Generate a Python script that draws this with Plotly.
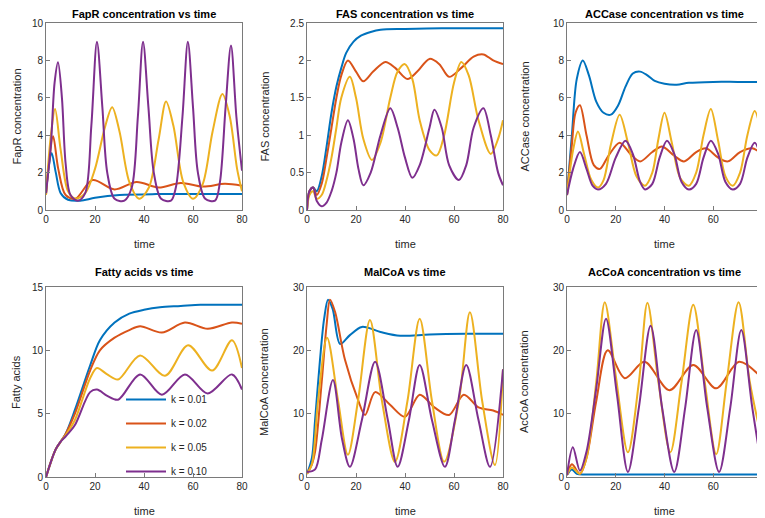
import plotly.graph_objects as go

# The page body adds an 8 px margin, so the figure is drawn 8 px smaller and
# all screen positions are converted to figure positions with this offset.
OFF = 8
W, H = 765 - OFF, 518 - OFF
COLORS = ["#0072BD", "#D95319", "#EDB120", "#7E2F8E"]
SERIES_NAMES = ["k = 0.01", "k = 0.02", "k = 0.05", "k = 0.10"]

# ---------------- Panel 1: FapR ----------------
fapr_t = [
    [0, 1, 2.3, 4, 6, 9, 14, 20, 30, 45, 60, 80],
    [0, 1.2, 2.9, 5, 8, 12, 19, 28, 37, 46, 55, 64, 73, 80],
    [0, 2, 3.7, 6, 9, 12, 16, 20, 24, 27, 30, 34, 38, 42, 46, 49, 52, 56, 60, 64, 68, 72, 75, 78, 80],
    [0, 2, 3.5, 4.9, 6.5, 8, 10, 13, 16, 18.5, 20.8, 23, 25, 28, 32, 35, 37.5, 39.6, 41.8, 44, 47, 51, 53,
     55.7, 57.9, 60, 62, 65, 69, 71, 73.3, 75.5, 77.7, 80],
]
fapr_y = [
    [0.9, 2.2, 3.05, 2.0, 0.9, 0.55, 0.5, 0.65, 0.8, 0.85, 0.85, 0.85],
    [0.8, 2.5, 3.95, 2.2, 0.8, 0.6, 1.6, 1.1, 1.5, 1.2, 1.45, 1.25, 1.4, 1.3],
    [0.8, 4.0, 5.4, 3.2, 1.0, 0.6, 0.9, 2.2, 4.4, 5.5, 4.2, 1.5, 0.6, 1.2, 3.8, 5.8, 4.5, 1.5, 0.6, 1.4,
     4.2, 6.2, 5.0, 2.2, 1.0],
    [0.9, 3.5, 6.8, 7.9, 6.0, 2.5, 0.8, 0.5, 0.9, 4.5, 9.0, 5.5, 2.0, 0.6, 0.5, 1.2, 5.0, 9.0, 5.5, 2.0,
     0.6, 0.5, 1.2, 5.0, 9.0, 5.5, 2.0, 0.6, 0.5, 1.5, 5.5, 8.8, 5.0, 2.1],
]

# ---------------- Panel 2: FAS ----------------
fas_t = [
    [0, 1, 2.5, 4, 6, 8, 10, 12, 14, 16, 19, 22, 26, 30, 40, 55, 80],
    [0, 1, 2.5, 4, 6, 8, 10, 12, 14, 16.7, 20, 23, 27, 32, 36, 41, 45, 50, 54, 58, 63, 68, 72, 76, 80],
    [0, 1, 2.5, 4, 6, 8, 10, 12, 14, 17.5, 20, 23, 26.5, 30, 34, 37, 40, 43, 46, 50, 53, 56, 60, 63, 66,
     70, 75, 78, 80],
    [0, 1, 2.5, 4, 6, 8, 10, 12, 14, 16.7, 19, 21, 23, 26, 30, 34, 37, 40, 43, 46, 50, 52, 55, 58, 62,
     65, 68, 72, 75, 78, 80],
]
fas_y = [
    [0, 0.25, 0.3, 0.25, 0.45, 0.85, 1.3, 1.65, 1.9, 2.1, 2.25, 2.33, 2.38, 2.41, 2.42, 2.43, 2.43],
    [0, 0.25, 0.3, 0.2, 0.35, 0.7, 1.1, 1.5, 1.8, 2.0, 1.85, 1.72, 1.85, 1.98, 1.9, 1.75, 1.85, 2.02,
     1.95, 1.78, 1.9, 2.05, 2.08, 2.0, 1.95],
    [0, 0.2, 0.25, 0.15, 0.2, 0.4, 0.7, 1.1, 1.5, 1.78, 1.5, 0.95, 0.67, 0.9, 1.5, 1.85, 1.95, 1.75,
     1.2, 0.8, 0.73, 1.0, 1.7, 1.98, 1.8, 1.2, 0.75, 0.95, 1.2],
    [0, 0.25, 0.3, 0.12, 0.05, 0.1, 0.25, 0.5, 0.9, 1.2, 0.95, 0.55, 0.33, 0.5, 1.0, 1.36, 1.1, 0.7,
     0.43, 0.6, 1.1, 1.34, 1.1, 0.6, 0.4, 0.6, 1.1, 1.36, 1.0, 0.5, 0.33],
]

# ---------------- Panel 3: ACCase ----------------
acc_t = [
    [0, 2, 4, 6.5, 9, 12, 15, 18, 21, 24, 27, 30, 33, 36, 40, 45, 50, 60, 70, 80],
    [0, 2, 3.5, 5.3, 8, 11, 13.5, 17, 21.6, 26, 30, 35, 39, 44, 48, 53, 57, 62, 66, 71, 76, 80],
    [0, 2.5, 4.5, 7, 10, 12.7, 15, 18, 21.6, 25, 28.5, 32, 35, 37.5, 40, 43, 46.5, 50, 53, 56, 59, 62,
     65, 68, 71, 74, 77, 80],
    [0, 2.5, 5.3, 8, 10.5, 12.7, 16, 20, 24, 27, 30, 32, 35, 38, 41, 44, 47, 50, 53, 56, 59, 62, 65, 68,
     71, 74, 77, 80],
]
acc_y = [
    [0.8, 4.0, 7.0, 8.0, 7.2, 5.8, 5.2, 5.1, 5.6, 6.6, 7.3, 7.4, 7.2, 6.9, 6.75, 6.7, 6.8, 6.85, 6.85, 6.85],
    [0.8, 3.5, 5.2, 5.6, 4.0, 2.4, 2.2, 2.9, 3.6, 3.0, 2.6, 3.1, 3.4, 2.9, 2.6, 3.1, 3.3, 2.8, 2.6, 3.1,
     3.3, 3.0],
    [0.8, 3.2, 4.2, 3.0, 1.6, 1.2, 1.6, 3.5, 5.1, 3.6, 1.8, 1.3, 2.0, 3.8, 5.2, 3.6, 1.7, 1.3, 2.0, 4.0,
     5.4, 3.7, 1.8, 1.3, 2.0, 4.0, 5.3, 3.8],
    [0.8, 2.2, 3.1, 2.2, 1.3, 1.1, 1.4, 2.8, 3.7, 3.0, 1.5, 1.1, 1.4, 2.8, 3.7, 3.0, 1.5, 1.1, 1.4, 2.8,
     3.7, 3.0, 1.5, 1.1, 1.4, 2.8, 3.6, 2.6],
]

# ---------------- Panel 4: Fatty acids ----------------
fa_t = [
    [0, 2, 4, 6, 8, 11.8, 18, 22, 28, 34, 40, 46.5, 55, 63, 70, 80],
    [0, 2, 4, 6, 8, 11.8, 18, 22, 28, 34, 38.4, 47.3, 56.7, 66, 75.9, 80],
    [0, 2, 4, 6, 8, 11.8, 18, 20.8, 25, 29.4, 38.4, 48.6, 58, 67.8, 75.9, 80],
    [0, 2, 4, 6, 8, 11.8, 18, 20.8, 25, 29.4, 38.4, 47.3, 56.7, 66, 75.9, 80],
]
fa_y = [
    [0, 1.2, 2.2, 2.8, 3.4, 5.3, 8.8, 10.8, 12.2, 12.9, 13.2, 13.4, 13.5, 13.6, 13.6, 13.6],
    [0, 1.2, 2.2, 2.8, 3.4, 5.0, 8.4, 10.0, 11.0, 11.6, 11.9, 11.4, 12.2, 11.7, 12.2, 12.1],
    [0, 1.2, 2.2, 2.8, 3.3, 4.5, 7.8, 8.6, 8.1, 7.7, 9.6, 8.0, 10.4, 8.4, 10.8, 8.6],
    [0, 1.2, 2.2, 2.8, 3.2, 4.1, 6.7, 6.9, 6.4, 6.1, 8.1, 6.5, 8.1, 6.6, 8.1, 6.9],
]

# ---------------- Panel 5: MalCoA ----------------
mal_t = [
    [0, 2, 3.3, 5.3, 7, 8.6, 10.5, 13.5, 17.5, 22.4, 30, 38, 50, 65, 80],
    [0, 2, 3.3, 6, 8, 9.4, 11.5, 15.5, 20.8, 23.7, 27.8, 33.9, 40, 46, 52, 58, 64, 70, 76, 80],
    [0, 2, 4.5, 8.2, 12.7, 16.7, 20.8, 25.7, 30.6, 35.9, 41, 46, 51, 56, 62, 66.5, 71.5, 76.7, 80],
    [0, 3.3, 6, 10.6, 14.3, 17.5, 22.4, 27.8, 33, 37, 41.6, 46, 51, 56.3, 60.4, 65, 70, 74.7, 80],
]
mal_y = [
    [0.5, 3, 9, 18.5, 25, 28, 26.5, 21, 22.4, 23.7, 22.9, 22.3, 22.5, 22.6, 22.6],
    [0.5, 2, 4, 15, 24, 28, 26, 18.5, 12.2, 9.8, 13.4, 11.4, 9.5, 13, 11, 9.8, 13, 11, 10.5, 9.8],
    [0.5, 2, 12, 22, 12, 3.5, 12, 24.8, 12, 2.4, 12, 25, 12, 2.4, 12, 26, 12, 1.9, 17],
    [0.8, 1.2, 5.8, 15.3, 6, 1.6, 9, 18.2, 9, 1.6, 9, 17.7, 9, 1.6, 9, 17.7, 9, 1.6, 17],
]

# ---------------- Panel 6: AcCoA ----------------
acoa_t = [
    [0, 2, 4, 8, 20, 40, 60, 80],
    [0, 2, 5.3, 8, 12, 16.7, 23.7, 31.8, 42, 51.8, 61.2, 70.6, 80],
    [0, 2, 5.3, 8, 12, 15.5, 20, 25, 29.5, 33, 37.5, 42.4, 47, 51.8, 56.5, 61.2, 65.5, 70.4, 75, 80],
    [0, 2.4, 5.3, 8, 12, 16, 20.5, 25, 29.5, 34.3, 39, 44, 48.5, 53, 57.5, 62.4, 67, 71.5, 76, 80],
]
acoa_y = [
    [0.3, 1.2, 0.5, 0.4, 0.4, 0.4, 0.4, 0.4],
    [0.3, 2.0, 0.5, 3, 12, 20, 15.6, 18.2, 13.7, 17.7, 14, 18.2, 15.6],
    [0.3, 1.5, 0.5, 3, 15, 27.6, 16, 3.9, 15, 27.5, 15, 3.9, 15, 27.2, 15, 3.6, 15, 27.6, 15, 5.8],
    [0.3, 4.7, 1.0, 4, 14, 25, 13, 0.8, 11, 23.9, 11, 0.8, 11, 23.2, 11, 0.8, 11, 23.2, 11, 1.2],
]

titles = ["FapR concentration vs time", "FAS concentration vs time", "ACCase concentration vs time",
          "Fatty acids vs time", "MalCoA vs time", "AcCoA concentration vs time"]
ylabels = ["FapR concentration", "FAS concentration", "ACCase concentration",
           "Fatty acids", "MalCoA concentration", "AcCoA concentration"]
xlabel = "time"

time_ticks = [0, 20, 40, 60, 80]
y_ticks = [
    [0, 2, 4, 6, 8, 10],
    [0, 0.5, 1, 1.5, 2, 2.5],
    [0, 2, 4, 6, 8, 10],
    [0, 5, 10, 15],
    [0, 10, 20, 30],
    [0, 10, 20, 30],
]

panels = [(fapr_t, fapr_y), (fas_t, fas_y), (acc_t, acc_y),
          (fa_t, fa_y), (mal_t, mal_y), (acoa_t, acoa_y)]

# screen-pixel geometry of each axes box (left, right, top, bottom)
xl = [46, 307, 567]
xr = [242, 503, 762]
yt = [23, 287]
yb = [210, 477]
ylab_x = [16, 264, 524]


def px(sx):
    return (sx - OFF) / W


def py(sy):
    return 1 - (sy - OFF) / H


FONT = "Liberation Sans, Arial, sans-serif"
fig = go.Figure()
axis_font = dict(family=FONT, size=10, color="#262626")
annotations = []

for i, (ts, ys) in enumerate(panels):
    col, row = i % 3, i // 3
    ax = "" if i == 0 else str(i + 1)
    for k in range(4):
        fig.add_trace(go.Scatter(
            x=ts[k], y=ys[k], mode="lines",
            line=dict(color=COLORS[k], width=2, shape="spline", smoothing=0.9),
            name=SERIES_NAMES[k], showlegend=(i == 3), legendgroup="g%d" % k,
            xaxis="x" + ax, yaxis="y" + ax,
        ))
    common = dict(showline=True, mirror=True, linecolor="#7a7a7a", linewidth=1,
                  ticks="inside", ticklen=4, tickcolor="#7a7a7a", showgrid=False,
                  zeroline=False, tickfont=axis_font, automargin=False)
    fig.update_layout(**{
        "xaxis" + ax: dict(domain=[px(xl[col]), px(xr[col])], range=[0, 80], tickvals=time_ticks,
                           anchor="y" + ax, **common),
        "yaxis" + ax: dict(domain=[py(yb[row]), py(yt[row])], range=[y_ticks[i][0], y_ticks[i][-1]],
                           tickvals=y_ticks[i], anchor="x" + ax, **common),
    })
    cx = (xl[col] + xr[col]) / 2
    annotations.append(dict(text="<b>" + titles[i] + "</b>", x=px(cx),
                            y=py(max(yt[row] - 15, OFF + 6)),
                            xref="paper", yref="paper", showarrow=False,
                            xanchor="center", yanchor="middle",
                            font=dict(family=FONT, size=11, color="black")))
    annotations.append(dict(text=xlabel, x=px(cx), y=py(yb[row] + 34),
                            xref="paper", yref="paper", showarrow=False,
                            xanchor="center", yanchor="middle",
                            font=dict(family=FONT, size=11, color="#262626")))
    cy = (yt[row] + yb[row]) / 2
    annotations.append(dict(text=ylabels[i], x=px(ylab_x[col]), y=py(cy),
                            xref="paper", yref="paper", showarrow=False, textangle=-90,
                            xanchor="center", yanchor="middle",
                            font=dict(family=FONT, size=11, color="#262626")))

fig.update_layout(
    width=W, height=H,
    margin=dict(l=0, r=0, t=0, b=0, autoexpand=False),
    paper_bgcolor="white", plot_bgcolor="white",
    annotations=annotations,
    legend=dict(x=px(121), y=py(385), xanchor="left", yanchor="top",
                bgcolor="rgba(0,0,0,0)", borderwidth=0,
                font=dict(family=FONT, size=10, color="#262626"),
                itemwidth=40, tracegroupgap=5),
)

fig.write_html("out.html")
